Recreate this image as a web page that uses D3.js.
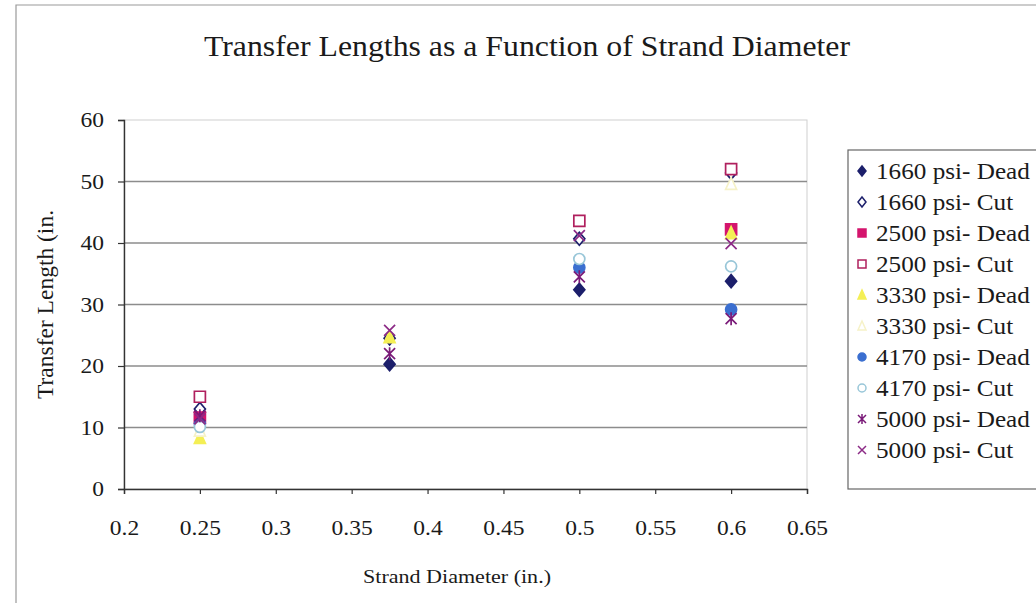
<!DOCTYPE html>
<html>
<head>
<meta charset="utf-8">
<script src="https://cdn.jsdelivr.net/npm/d3@7"></script>
<style>
  html, body { margin: 0; padding: 0; background: #fff; }
  svg { display: block; font-family: "Liberation Serif", "Times New Roman", serif; }
</style>
</head>
<body>
<svg id="chart" width="1036" height="603"></svg>
<script>
// Strand diameters (in.) at which transfer lengths were measured
const diameters = [0.25, 0.375, 0.5, 0.6];

// Series labels
const seriesNames = [
  "1660 psi- Dead", "1660 psi- Cut",
  "2500 psi- Dead", "2500 psi- Cut",
  "3330 psi- Dead", "3330 psi- Cut",
  "4170 psi- Dead", "4170 psi- Cut",
  "5000 psi- Dead", "5000 psi- Cut"
];

// Transfer lengths (in.) per series, one per diameter (null = not tested)
const v1660Dead = [12.5, 20.3, 32.4, 33.8];
const v1660Cut  = [13.0, 24.5, 40.7, 51.4];
const v2500Dead = [11.6, null, null, 42.2];
const v2500Cut  = [15.0, null, 43.6, 52.0];
const v3330Dead = [8.3, 24.7, null, 41.6];
const v3330Cut  = [9.5, null, null, 49.6];
const v4170Dead = [10.6, null, 36.0, 29.2];
const v4170Cut  = [10.1, null, 37.4, 36.2];
const v5000Dead = [11.9, 22.0, 34.5, 27.7];
const v5000Cut  = [11.4, 25.8, 41.2, 39.9];

// Axis ticks
const xTicks = [0.2, 0.25, 0.3, 0.35, 0.4, 0.45, 0.5, 0.55, 0.6, 0.65];
const yTicks = [0, 10, 20, 30, 40, 50, 60];

const seriesValues = [v1660Dead, v1660Cut, v2500Dead, v2500Cut, v3330Dead,
                      v3330Cut, v4170Dead, v4170Cut, v5000Dead, v5000Cut];

// Marker style per series
const markerStyles = [
  { shape: "diamond",  fill: "#1c1f6b", stroke: "#1c1f6b" },
  { shape: "diamond",  fill: "#ffffff", stroke: "#1c1f6b" },
  { shape: "square",   fill: "#d4156d", stroke: "#d4156d" },
  { shape: "square",   fill: "#ffffff", stroke: "#b0205e" },
  { shape: "triangle", fill: "#f4ef55", stroke: "#f4ef55" },
  { shape: "triangle", fill: "#ffffff", stroke: "#f6f2c8" },
  { shape: "circle",   fill: "#3b6fd0", stroke: "#3b6fd0" },
  { shape: "circle",   fill: "#ffffff", stroke: "#98c6d8" },
  { shape: "asterisk", fill: "none",    stroke: "#7a1a78" },
  { shape: "cross",    fill: "none",    stroke: "#8c2a86" }
];

// Lettering is set slightly wide
const SX = 1.12;

const svg = d3.select("#chart");
const W = 1036, H = 603;

// Outer chart frame
svg.append("path")
  .attr("d", `M16,${H} L16,5 L${W},5`)
  .attr("fill", "none").attr("stroke", "#9a9a9a").attr("stroke-width", 1.2);

const x = d3.scaleLinear().domain([0.2, 0.65]).range([124, 807]);
const y = d3.scaleLinear().domain([0, 60]).range([489, 120]);

// Plot area border
svg.append("rect")
  .attr("x", x(0.2)).attr("y", y(60))
  .attr("width", x(0.65) - x(0.2)).attr("height", y(0) - y(60))
  .attr("fill", "none").attr("stroke", "#cfcfcf").attr("stroke-width", 1);

// Horizontal gridlines
svg.append("g").selectAll("line")
  .data(yTicks.filter(t => t > 0 && t < 60))
  .join("line")
  .attr("x1", x(0.2)).attr("x2", x(0.65))
  .attr("y1", d => y(d)).attr("y2", d => y(d))
  .attr("stroke", "#8c8c8c").attr("stroke-width", 1.4);

// Axes
const yAxis = svg.append("g")
  .attr("transform", `translate(${x(0.2)},0)`)
  .call(d3.axisLeft(y).tickValues(yTicks).tickSize(6).tickPadding(0).tickFormat(d3.format("d")));
const xAxis = svg.append("g")
  .attr("transform", `translate(0,${y(0)})`)
  .call(d3.axisBottom(x).tickValues(xTicks).tickSize(5).tickPadding(26).tickFormat(d => String(d)));

[yAxis, xAxis].forEach(g => {
  g.select(".domain").attr("stroke", "#333").attr("stroke-width", 1.4);
  g.selectAll(".tick line").attr("stroke", "#333").attr("stroke-width", 1.2);
  g.selectAll(".tick text")
    .attr("fill", "#1a1a1a")
    .style("font-family", '"Liberation Serif", serif')
    .style("font-size", "21px");
});
xAxis.selectAll(".tick text").attr("transform", `scale(${SX},1)`);
yAxis.selectAll(".tick text")
  .attr("x", -20 / SX)
  .attr("transform", `scale(${SX},1)`);

// Stretched text helper
function wideText(px, py, str, size, anchor) {
  return svg.append("text")
    .attr("transform", `translate(${px},${py}) scale(${SX},1)`)
    .attr("text-anchor", anchor || "middle")
    .style("font-size", size + "px").attr("fill", "#1a1a1a")
    .text(str);
}

// Title and axis titles
wideText(527, 56, "Transfer Lengths as a Function of Strand Diameter", 28.4);
wideText(457, 583, "Strand Diameter (in.)", 19.7);

svg.append("text")
  .attr("transform", `translate(53,${y(30)}) rotate(-90)`)
  .attr("text-anchor", "middle")
  .style("font-size", "23.5px").attr("fill", "#1a1a1a")
  .text("Transfer Length (in.");

// Marker path generator
function markerPath(shape, s) {
  const h = s / 2;
  switch (shape) {
    case "diamond":  return `M0,${-h - 1}L${h},0L0,${h + 1}L${-h},0Z`;
    case "square":   return `M${-h},${-h}H${h}V${h}H${-h}Z`;
    case "triangle": return `M0,${-h - 1}L${h},${h}L${-h},${h}Z`;
    case "circle":   return d3.symbol(d3.symbolCircle, Math.PI * h * h)();
    case "asterisk": return `M${-h},${-h}L${h},${h}M${-h},${h}L${h},${-h}M0,${-h - 1}L0,${h + 1}`;
    case "cross":    return `M${-h},${-h}L${h},${h}M${-h},${h}L${h},${-h}`;
  }
}

// Data points
const points = [];
seriesValues.forEach((vals, i) => {
  vals.forEach((v, j) => {
    if (v != null) points.push({ s: i, d: diameters[j], v });
  });
});

svg.append("g").selectAll("path")
  .data(points)
  .join("path")
  .attr("transform", p => `translate(${x(p.d)},${y(p.v)})`)
  .attr("d", p => markerPath(markerStyles[p.s].shape, 11))
  .attr("fill", p => markerStyles[p.s].fill)
  .attr("stroke", p => markerStyles[p.s].stroke)
  .attr("stroke-width", 1.7);

// Legend
const legend = svg.append("g");
legend.append("rect")
  .attr("x", 848).attr("y", 150).attr("width", 200).attr("height", 339)
  .attr("fill", "#fff").attr("stroke", "#666").attr("stroke-width", 1.2);

const items = legend.selectAll("g.item")
  .data(seriesNames)
  .join("g").attr("class", "item")
  .attr("transform", (d, i) => `translate(0,${171 + i * 31})`);

items.append("path")
  .attr("transform", "translate(862,0)")
  .attr("d", (d, i) => markerPath(markerStyles[i].shape, 8))
  .attr("fill", (d, i) => markerStyles[i].fill)
  .attr("stroke", (d, i) => markerStyles[i].stroke)
  .attr("stroke-width", 1.5);

items.append("text")
  .attr("transform", `translate(876,7.5) scale(${SX},1)`)
  .style("font-size", "22.5px").attr("fill", "#1a1a1a")
  .text(d => d);
</script>
</body>
</html>
